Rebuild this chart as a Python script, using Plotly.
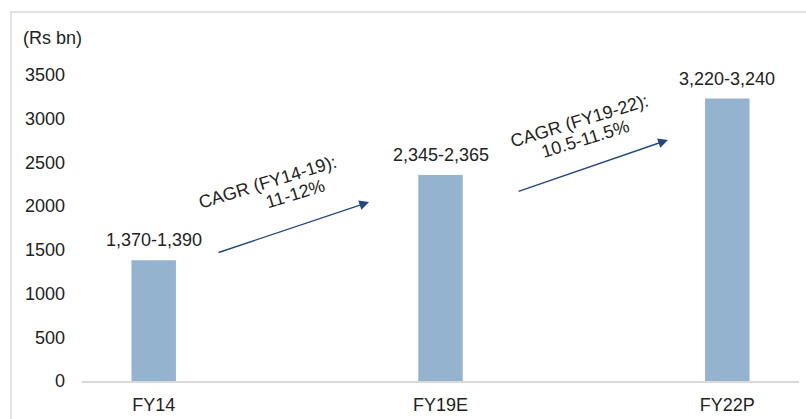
import plotly.graph_objects as go

# Market size by fiscal year (Rs bn), drawn at the midpoint of each range
categories = ["FY14", "FY19E", "FY22P"]
values = [1380, 2355, 3230]
range_labels = ["1,370-1,390", "2,345-2,365", "3,220-3,240"]
tick_values = [0, 500, 1000, 1500, 2000, 2500, 3000, 3500]

FONT = "Liberation Sans, Arial, sans-serif"
TEXT = "#222222"
BAR = "#94b3cf"
ARROW = "#24477f"
FS = 18

fig = go.Figure()
fig.add_trace(go.Bar(
    x=categories, y=values,
    width=0.155,
    marker=dict(color=BAR, line=dict(width=0)),
    hoverinfo="skip",
))

annotations = []
# value range labels over each bar
for i, (v, lab) in enumerate(zip(values, range_labels)):
    annotations.append(dict(
        x=i, y=v, xref="x", yref="y", text=lab, showarrow=False,
        xanchor="center", yanchor="middle", yshift=20,
        font=dict(family=FONT, size=FS, color=TEXT),
    ))

# growth arrows between periods
for (tx, ty, hx, hy) in [(0.221, 1464, 0.751, 2047), (1.267, 2162, 1.793, 2757)]:
    annotations.append(dict(
        x=hx, y=hy, ax=tx, ay=ty, xref="x", yref="y", axref="x", ayref="y",
        text="", showarrow=True, arrowhead=2, arrowsize=1.4, arrowwidth=1.4,
        arrowcolor=ARROW, standoff=0, startstandoff=0,
    ))

# rotated CAGR captions
for (x, y, t) in [(0.3985, 2276, "CAGR (FY14-19):"), (0.4927, 2139, "11-12%"),
                  (1.483, 2974, "CAGR (FY19-22):"), (1.504, 2768, "10.5-11.5%")]:
    annotations.append(dict(
        x=x, y=y, xref="x", yref="y", text=t, showarrow=False, textangle=-17,
        xanchor="center", yanchor="middle",
        font=dict(family=FONT, size=FS, color=TEXT),
    ))

# unit label
annotations.append(dict(
    x=-0.0850, y=1.070, xref="paper", yref="paper", text="(Rs bn)",
    showarrow=False, xanchor="left", yanchor="middle",
    font=dict(family=FONT, size=FS, color=TEXT),
))

fig.update_layout(
    width=806, height=419,
    margin=dict(l=82, r=7, t=60, b=38, autoexpand=False),
    paper_bgcolor="white", plot_bgcolor="white",
    showlegend=False,
    font=dict(family=FONT, size=FS, color=TEXT),
    annotations=annotations,
    shapes=[dict(
        type="rect", xref="paper", yref="paper",
        x0=-0.099, x1=1.05, y0=-0.3, y1=1.1495,
        line=dict(color="#d9d9d9", width=1.5), fillcolor="rgba(0,0,0,0)",
        layer="below",
    )],
    xaxis=dict(
        type="category", range=[-0.25, 2.25], automargin=False,
        showgrid=False, zeroline=False,
        showline=True, linecolor="#d9d9d9", linewidth=1.5,
        ticks="", ticklabelstandoff=7,
        tickfont=dict(family=FONT, size=FS, color=TEXT),
    ),
    yaxis=dict(
        range=[0, 3671.5], tickvals=tick_values, automargin=False,
        showgrid=False, zeroline=False, showline=False,
        ticks="", ticklabelstandoff=16,
        tickfont=dict(family=FONT, size=FS, color=TEXT),
    ),
)

fig.write_html("out.html")
